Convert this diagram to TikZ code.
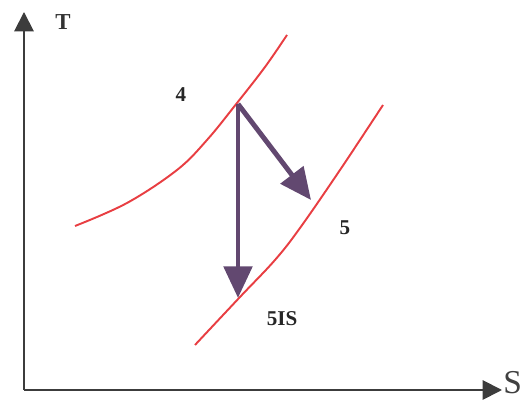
\documentclass[tikz,border=0pt]{standalone}
\usepackage{fontspec}
\setmainfont{Liberation Serif}
\usepackage{xcolor}
\definecolor{tsred}{RGB}{232, 62, 66}
\definecolor{tspurple}{RGB}{98, 72, 112}
\definecolor{tsaxis}{RGB}{60, 60, 60}
\usetikzlibrary{arrows.meta}

\begin{document}
\begin{tikzpicture}[x=0.02cm, y=-0.02cm,
    axis/.style={tsaxis, line width=1.1pt, -{Triangle[length=11pt, width=11pt]}},
    isobar/.style={tsred, line width=1.1pt},
    expansion/.style={tspurple, line width=2.8pt, -{Triangle[length=18pt, width=16pt]}},
    lbl/.style={font=\bfseries\fontsize{12}{12}\selectfont, text=black!85}]

\useasboundingbox (0,0) rectangle (522,401);

% === Ejes T-S ===
\coordinate (o) at (24,390);
\coordinate (ytop) at (24,12);
\coordinate (xend) at (502,390);
\draw[axis] (o) -- (ytop);
\draw[axis] (o) -- (xend);
\node[font=\bfseries\fontsize{13}{13}\selectfont, text=black!80] (tlabel) at (63,22) {T};
\node[anchor=west, inner sep=0pt, font=\fontsize{19}{19}\selectfont, text=black!75] (slabel) at (503,383) {S};

% === Isobaras ===
\draw[isobar] plot[smooth, tension=0.6] coordinates
    {(75,226) (127,203) (177,170) (207,140) (237,103) (265,67) (287,35)};
\draw[isobar] plot[smooth, tension=0.6] coordinates
    {(195,345) (240,297) (275,260) (300,228) (340,170) (383,105)};

% Puntos del proceso
\coordinate (p4) at (238,104);
\coordinate (p5s) at (238,298);
\coordinate (p5) at (311,200);

% Expansión isentrópica y real
\draw[expansion] (p4) -- (p5s);
\draw[expansion] (p4) -- (p5);

% Etiquetas
\node[lbl] (l4) at (181,95) {4};
\node[lbl] (l5) at (345,228) {5};
\node[lbl] (l5is) at (282,319) {5IS};

\end{tikzpicture}
\end{document}
